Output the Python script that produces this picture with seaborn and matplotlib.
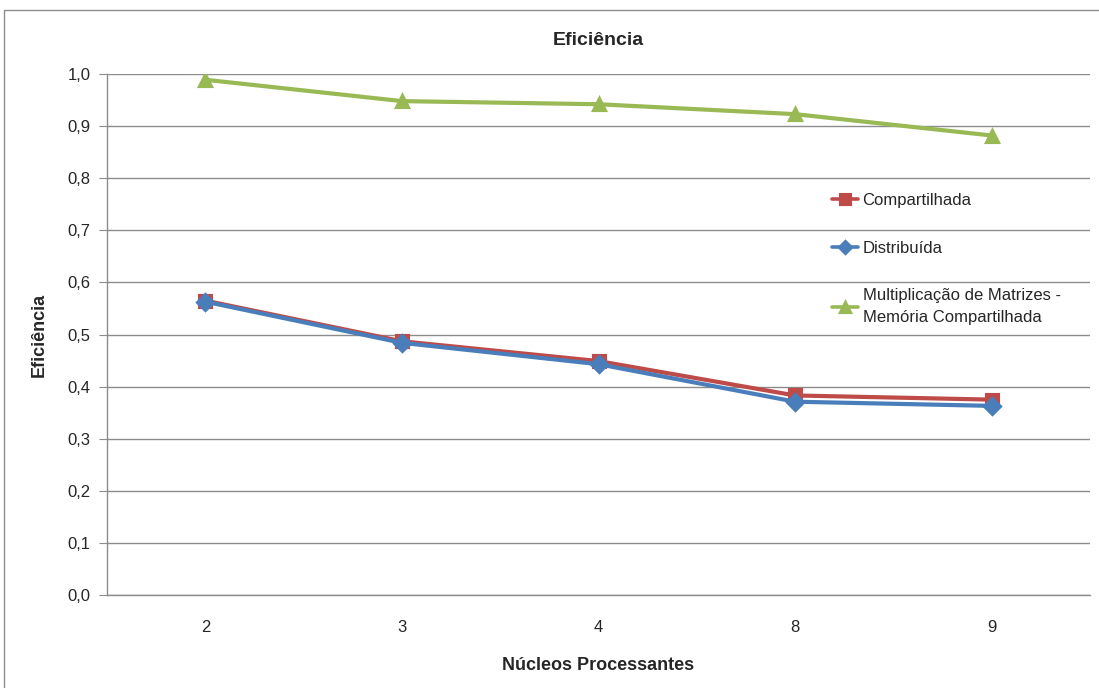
import matplotlib
matplotlib.use("Agg")
import matplotlib.pyplot as plt
import seaborn as sns
import pandas as pd
from matplotlib.ticker import FuncFormatter, MultipleLocator

# Data
nucleos = ["2", "3", "4", "8", "9"]
compartilhada = [0.565, 0.487, 0.449, 0.383, 0.375]
distribuida = [0.563, 0.484, 0.443, 0.371, 0.363]
multiplicacao = [0.989, 0.948, 0.942, 0.923, 0.882]
series_names = [
    "Compartilhada",
    "Distribuída",
    "Multiplicação de Matrizes -\nMemória Compartilhada",
]

df = pd.DataFrame({
    "Núcleos": nucleos * 3,
    "Eficiência": compartilhada + distribuida + multiplicacao,
    "Série": [series_names[0]] * 5 + [series_names[1]] * 5 + [series_names[2]] * 5,
})

sns.set_style("white")
plt.rcParams["font.family"] = ["Liberation Sans Narrow", "Liberation Sans", "DejaVu Sans"]

colors = ["#BE4B48", "#4A7EBB", "#98B954"]

fig = plt.figure(figsize=(10.99, 6.88), dpi=100)
ax = fig.add_axes([0.0974, 0.1352, 0.8944, 0.7572])

sns.pointplot(
    data=df, x="Núcleos", y="Eficiência", hue="Série",
    order=nucleos, hue_order=series_names, palette=colors,
    markers=["s", "D", "^"], linestyles="-", errorbar=None,
    markersize=8.5, linewidth=3.0, ax=ax,
)

ax.set_xlim(-0.5, 4.5)
ax.set_ylim(0, 1.0)
ax.yaxis.set_major_locator(MultipleLocator(0.1))
ax.yaxis.set_major_formatter(FuncFormatter(lambda v, p: f"{v:.1f}".replace(".", ",")))
ax.grid(axis="y", color="#8c8c8c", linewidth=1.0)
ax.set_axisbelow(True)

for s in ["top", "right"]:
    ax.spines[s].set_visible(False)
for s in ["left", "bottom"]:
    ax.spines[s].set_color("#8c8c8c")
    ax.spines[s].set_linewidth(1.0)

# x ticks between categories, labels centred on categories
ax.set_xticks(range(len(nucleos)))
ax.set_xticklabels(nucleos)
ax.set_xticks([i - 0.5 for i in range(len(nucleos) + 1)], minor=True)
ax.tick_params(axis="x", which="major", length=0, pad=18, labelsize=12)
ax.tick_params(axis="x", which="minor", length=6, color="#8c8c8c", direction="out")
ax.tick_params(axis="y", which="major", length=6, color="#8c8c8c", direction="out",
               labelsize=12, pad=6)
ax.tick_params(left=True, bottom=True)

ax.set_title("Eficiência", fontsize=14, fontweight="bold", pad=21)
ax.set_xlabel("Núcleos Processantes", fontsize=13, fontweight="bold", labelpad=16)
ax.set_ylabel("Eficiência", fontsize=13, fontweight="bold", labelpad=14)

handles, labels = ax.get_legend_handles_labels()
if ax.get_legend() is not None:
    ax.get_legend().remove()
leg = ax.legend(
    handles, labels, loc="upper left", bbox_to_anchor=(0.722, 0.80),
    frameon=False, fontsize=12, labelspacing=1.95, handlelength=1.6,
    handletextpad=0.25,
)
for t in leg.get_texts():
    t.set_linespacing(1.55)
for h in leg.legend_handles:
    h.set_markersize(6.5)
    h.set_linewidth(2.6)

# Outer chart border
fig.patches.append(plt.Rectangle((0.004, -0.01), 1.2, 0.996, transform=fig.transFigure,
                                 fill=False, edgecolor="#8c8c8c", linewidth=1.0))

fig.savefig("out.png", dpi=100)
